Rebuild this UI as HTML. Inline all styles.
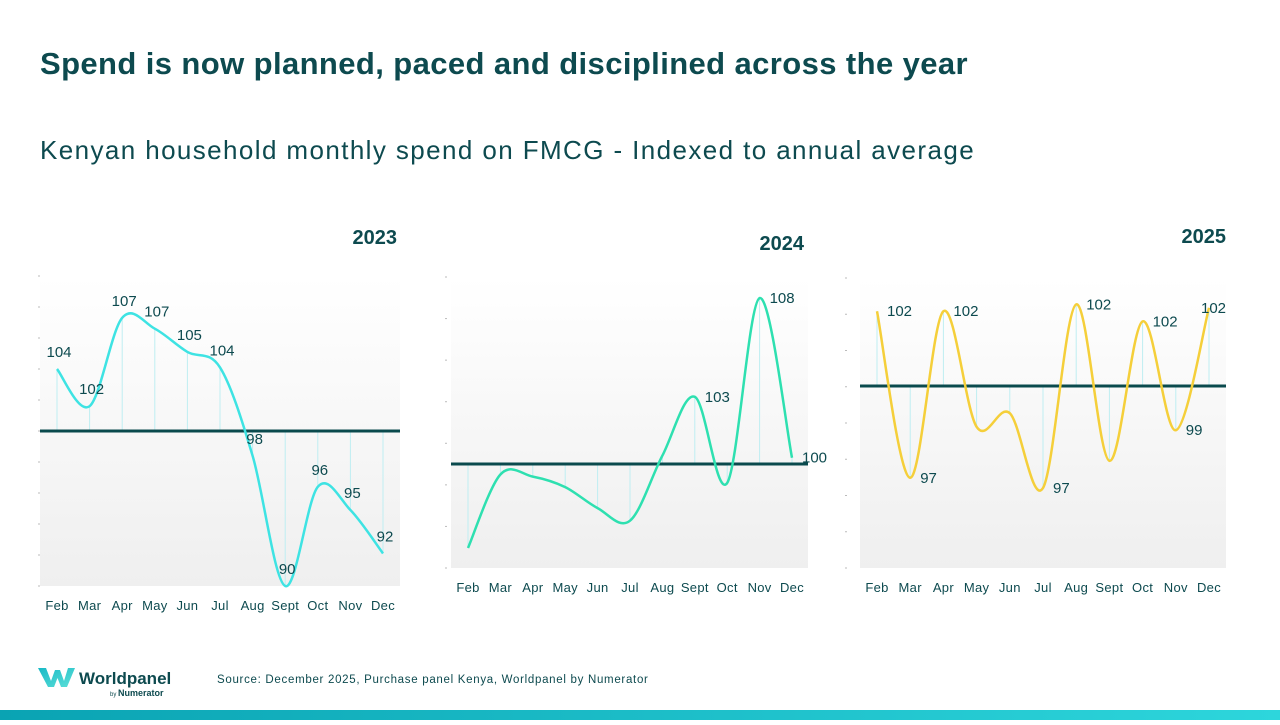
<!DOCTYPE html>
<html><head><meta charset="utf-8"><style>
body{margin:0;width:1280px;height:720px;overflow:hidden;background:#fff;font-family:"Liberation Sans",sans-serif;color:#0d4a4f}
svg text{font-family:"Liberation Sans",sans-serif}
</style></head><body>
<svg id="s" width="1280" height="720" viewBox="0 0 1280 720" xmlns="http://www.w3.org/2000/svg">
<defs>
<linearGradient id="bg" x1="0" y1="0" x2="0" y2="1"><stop offset="0" stop-color="#ffffff"/><stop offset="1" stop-color="#efefef"/></linearGradient>
<linearGradient id="bar" x1="0" y1="0" x2="1" y2="0"><stop offset="0" stop-color="#0aa3b3"/><stop offset="1" stop-color="#2dd6dc"/></linearGradient>
<linearGradient id="logo" x1="0" y1="0" x2="1" y2="1"><stop offset="0" stop-color="#18b9c6"/><stop offset="1" stop-color="#5ee0d8"/></linearGradient>
</defs>
<text x="40" y="74" font-size="31" font-weight="bold" fill="#0d4a4f" letter-spacing="0.4">Spend is now planned, paced and disciplined across the year</text>
<text x="40" y="159" font-size="26" fill="#0d4a4f" letter-spacing="1.4">Kenyan household monthly spend on FMCG - Indexed to annual average</text>
<g id="charts"></g>
<g>
<path d="M38 668 L46 668 L51 681 L55 670 L60 670 L64 681 L68 668 L75 668 L67 687 L61 687 L57.5 678 L54 687 L48 687 Z" fill="url(#logo)"/>
<text x="79" y="684" font-size="17" font-weight="bold" fill="#0d4a4f">Worldpanel</text>
<text x="110" y="696" font-size="6" fill="#0d4a4f">by</text>
<text x="118" y="696" font-size="9" font-weight="bold" fill="#0d4a4f">Numerator</text>
</g>
<text x="217" y="683" font-size="11.5" fill="#0d4a4f" letter-spacing="0.7">Source: December 2025, Purchase panel Kenya, Worldpanel by Numerator</text>
<rect x="0" y="710" width="1280" height="10" fill="url(#bar)"/>
</svg>
<script>
const months = ["Feb","Mar","Apr","May","Jun","Jul","Aug","Sept","Oct","Nov","Dec"];
const values2023 = [104.0,101.6,107.3,106.6,105.1,104.1,98.4,90.0,96.4,94.9,92.1];
const values2024 = [96.0,99.5,99.4,98.9,97.9,97.3,100.4,103.2,99.1,107.9,100.3];
const values2025 = [102.2,97.3,102.2,98.8,99.2,97.0,102.4,97.8,101.9,98.7,102.3];
const labels2023 = ["104","102","107","107","105","104","98","90","96","95","92"];
const labels2024 = ["","","","","","","","103","","108","100"];
const labels2025 = ["102","97","102","","","97","102","","102","99","102"];

const NS="http://www.w3.org/2000/svg";
const root=document.getElementById('charts');
function mk(tag,attrs,parent){const e=document.createElementNS(NS,tag);for(const k in attrs)e.setAttribute(k,attrs[k]);(parent||root).appendChild(e);return e;}

const cfgs=[
 {year:"2023",vals:values2023,labs:labels2023,color:"#3ee3e3",x0:57,x1:383,px0:40,px1:400,py0:276,py1:586,base:431,ppu:15.5,ticks:11,tickX:39,monthY:610,yearX:397,yearY:244,lab:"above"},
 {year:"2024",vals:values2024,labs:labels2024,color:"#2ee0b0",x0:468,x1:792,px0:451,px1:808,py0:277,py1:568,base:464,ppu:21,ticks:8,tickX:446,monthY:592,yearX:804,yearY:250,lab:"right"},
 {year:"2025",vals:values2025,labs:labels2025,color:"#f5cf3a",x0:877,x1:1209,px0:860,px1:1226,py0:278,py1:568,base:386,ppu:34,ticks:9,tickX:846,monthY:592,yearX:1226,yearY:243,lab:"right"}
];

cfgs.forEach(c=>{
 const g=mk('g',{});
 
 
 const xs=i=>c.x0+(c.x1-c.x0)*i/(months.length-1);
 const ys=v=>c.base-(v-100)*c.ppu;
 const bgr=mk('rect',{x:c.px0,y:c.py0,width:c.px1-c.px0,height:c.py1-c.py0,fill:"url(#bg)"},g);
 
 
 for(let t=0;t<c.ticks;t++){
  const ty=c.py0+(c.py1-c.py0)*t/(c.ticks-1);
  const tk=mk('line',{x1:c.tickX-1,x2:c.tickX+1,y1:ty,y2:ty,stroke:"#bbb","stroke-width":1},g);
  
  
 }
 const yt=mk('text',{x:c.yearX,y:c.yearY,"font-size":20,"font-weight":"bold","text-anchor":"end",fill:"#0d4a4f"},g);
 yt.textContent=c.year;
 
 
 const pts=c.vals.map((v,i)=>[xs(i),ys(v)]);
 pts.forEach((p,i)=>{
  const dl=mk('line',{x1:p[0],x2:p[0],y1:c.base,y2:p[1],stroke:"#bfeef2","stroke-width":1},g);
  
  
  const mt=mk('text',{x:p[0],y:c.monthY,"font-size":13,"text-anchor":"middle",fill:"#0d4a4f","letter-spacing":"0.3"},g);
  mt.textContent=months[i];
  
  
 });
 const bl=mk('line',{x1:c.px0,x2:c.px1,y1:c.base,y2:c.base,stroke:"#0a4a4d","stroke-width":3},g);
 
 
 let d="M"+pts[0][0]+" "+pts[0][1];
 for(let i=0;i<pts.length-1;i++){
  const p0=pts[Math.max(0,i-1)],p1=pts[i],p2=pts[i+1],p3=pts[Math.min(pts.length-1,i+2)];
  const c1=[p1[0]+(p2[0]-p0[0])/6,p1[1]+(p2[1]-p0[1])/6];
  const c2=[p2[0]-(p3[0]-p1[0])/6,p2[1]-(p3[1]-p1[1])/6];
  d+=` C${c1[0]} ${c1[1]} ${c2[0]} ${c2[1]} ${p2[0]} ${p2[1]}`;
 }
 const ln=mk('path',{d:d,fill:"none",stroke:c.color,"stroke-width":2.5},g);
 
 
 pts.forEach((p,i)=>{
  if(!c.labs[i])return;
  const last=i===pts.length-1&&c.year==="2025";
  const a=c.lab==="above"?{x:p[0]+2,y:p[1]-12,"text-anchor":"middle"}:{x:p[0]+(last?-8:10),y:p[1]+5,"text-anchor":"start"};
  const lt=mk('text',Object.assign(a,{"font-size":15,fill:"#0d4a4f"}),g);
  lt.textContent=c.labs[i];
  
  
 });
});
</script>
</body></html>
